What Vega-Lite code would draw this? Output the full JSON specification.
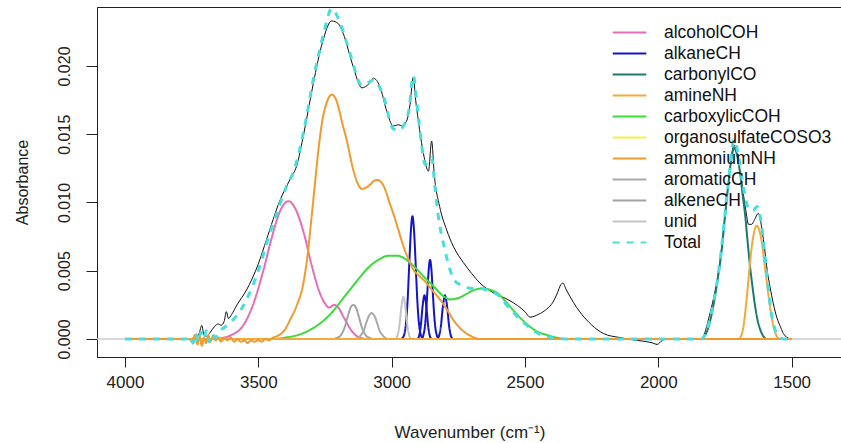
{
  "$schema": "https://vega.github.io/schema/vega-lite/v6.json",
  "width": 745,
  "height": 350,
  "autosize": {"type": "none"},
  "padding": {"left": 97, "top": 7, "right": 0, "bottom": 86},
  "background": "white",
  "config": {
    "view": {"stroke": "#222", "strokeWidth": 1},
    "font": "Liberation Sans",
    "axis": {"grid": false, "domainColor": "#222", "tickColor": "#222", "labelColor": "#222", "titleColor": "#222", "labelFont": "Liberation Sans", "titleFont": "Liberation Sans", "titleFontWeight": "normal"}
  },
  "datasets": {
    "zero": [{"wn": 4105, "ab": 0}, {"wn": 1311.2, "ab": 0}],
    "measured": [
      {"wn": 4000, "ab": 0}, {"wn": 3770, "ab": 0}, {"wn": 3735, "ab": 0.0001}, {"wn": 3722, "ab": 0.0004}, {"wn": 3712, "ab": 0.0010}, {"wn": 3704, "ab": 0.0003}, {"wn": 3695, "ab": 0.0002}, {"wn": 3680, "ab": 0.0005}, {"wn": 3665, "ab": 0.0009}, {"wn": 3650, "ab": 0.0011}, {"wn": 3640, "ab": 0.0010}, {"wn": 3628, "ab": 0.0013}, {"wn": 3620, "ab": 0.0020}, {"wn": 3612, "ab": 0.0015}, {"wn": 3600, "ab": 0.0018}, {"wn": 3580, "ab": 0.0025},
      {"wn": 3544, "ab": 0.0036}, {"wn": 3500, "ab": 0.0055}, {"wn": 3469, "ab": 0.0073}, {"wn": 3420, "ab": 0.0101}, {"wn": 3381, "ab": 0.0117}, {"wn": 3356, "ab": 0.0127}, {"wn": 3330, "ab": 0.0150}, {"wn": 3294, "ab": 0.0187}, {"wn": 3260, "ab": 0.0217}, {"wn": 3225, "ab": 0.0233}, {"wn": 3200, "ab": 0.0231}, {"wn": 3182, "ab": 0.0224}, {"wn": 3145, "ab": 0.0200}, {"wn": 3112, "ab": 0.0184}, {"wn": 3085, "ab": 0.0187}, {"wn": 3069, "ab": 0.0191}, {"wn": 3044, "ab": 0.0185}, {"wn": 3020, "ab": 0.0168}, {"wn": 2994, "ab": 0.0156}, {"wn": 2975, "ab": 0.0157}, {"wn": 2960, "ab": 0.0156}, {"wn": 2950, "ab": 0.0158}, {"wn": 2940, "ab": 0.0162}, {"wn": 2931, "ab": 0.0172}, {"wn": 2919, "ab": 0.0192}, {"wn": 2910, "ab": 0.0175}, {"wn": 2900, "ab": 0.0160}, {"wn": 2881, "ab": 0.0136}, {"wn": 2862, "ab": 0.0123}, {"wn": 2850, "ab": 0.0145}, {"wn": 2840, "ab": 0.0120}, {"wn": 2820, "ab": 0.0097}, {"wn": 2794, "ab": 0.0080}, {"wn": 2769, "ab": 0.0068}, {"wn": 2731, "ab": 0.0056}, {"wn": 2700, "ab": 0.0048}, {"wn": 2669, "ab": 0.0041}, {"wn": 2620, "ab": 0.0034}, {"wn": 2556, "ab": 0.0028}, {"wn": 2500, "ab": 0.0020}, {"wn": 2481, "ab": 0.0016}, {"wn": 2450, "ab": 0.0018}, {"wn": 2418, "ab": 0.0022}, {"wn": 2395, "ab": 0.0027}, {"wn": 2380, "ab": 0.0033}, {"wn": 2365, "ab": 0.0040}, {"wn": 2358, "ab": 0.0041}, {"wn": 2345, "ab": 0.0036}, {"wn": 2331, "ab": 0.0031}, {"wn": 2306, "ab": 0.0023}, {"wn": 2269, "ab": 0.0014}, {"wn": 2230, "ab": 0.0007}, {"wn": 2206, "ab": 0.0004}, {"wn": 2143, "ab": 0.0001}, {"wn": 2080, "ab": -0.0001}, {"wn": 2043, "ab": -0.0002}, {"wn": 2020, "ab": -0.0003}, {"wn": 2005, "ab": -0.0004}, {"wn": 1985, "ab": -0.0001}, {"wn": 1968, "ab": 0}, {"wn": 1840, "ab": 0}, {"wn": 1806, "ab": 0.0019}, {"wn": 1768, "ab": 0.0058}, {"wn": 1737, "ab": 0.0114}, {"wn": 1716, "ab": 0.0142}, {"wn": 1700, "ab": 0.0130}, {"wn": 1687, "ab": 0.0114}, {"wn": 1670, "ab": 0.0092}, {"wn": 1662, "ab": 0.0084}, {"wn": 1650, "ab": 0.0084}, {"wn": 1640, "ab": 0.0087}, {"wn": 1625, "ab": 0.0092}, {"wn": 1606, "ab": 0.0073}, {"wn": 1590, "ab": 0.0048}, {"wn": 1581, "ab": 0.0038}, {"wn": 1556, "ab": 0.0016}, {"wn": 1540, "ab": 0.0008}, {"wn": 1531, "ab": 0.0004}, {"wn": 1506, "ab": 0}
    ],
    "total": [
      {"series": "Total", "wn": 4000, "ab": 0}, {"series": "Total", "wn": 3770, "ab": 0}, {"series": "Total", "wn": 3755, "ab": 0.0002}, {"series": "Total", "wn": 3745, "ab": -0.0003}, {"series": "Total", "wn": 3735, "ab": 0.0004}, {"series": "Total", "wn": 3725, "ab": -0.0002}, {"series": "Total", "wn": 3715, "ab": 0.0005}, {"series": "Total", "wn": 3705, "ab": 0}, {"series": "Total", "wn": 3695, "ab": 0.0006}, {"series": "Total", "wn": 3685, "ab": -0.0002}, {"series": "Total", "wn": 3675, "ab": 0.0004}, {"series": "Total", "wn": 3660, "ab": 0.0001}, {"series": "Total", "wn": 3645, "ab": 0.0006}, {"series": "Total", "wn": 3630, "ab": 0.0008}, {"series": "Total", "wn": 3600, "ab": 0.0013}, {"series": "Total", "wn": 3570, "ab": 0.0020},
      {"series": "Total", "wn": 3544, "ab": 0.0029}, {"series": "Total", "wn": 3500, "ab": 0.0050}, {"series": "Total", "wn": 3469, "ab": 0.0070}, {"series": "Total", "wn": 3431, "ab": 0.0092}, {"series": "Total", "wn": 3394, "ab": 0.0112}, {"series": "Total", "wn": 3369, "ab": 0.0122}, {"series": "Total", "wn": 3331, "ab": 0.0151}, {"series": "Total", "wn": 3294, "ab": 0.0190}, {"series": "Total", "wn": 3256, "ab": 0.0223}, {"series": "Total", "wn": 3225, "ab": 0.0242}, {"series": "Total", "wn": 3194, "ab": 0.0232}, {"series": "Total", "wn": 3156, "ab": 0.0209}, {"series": "Total", "wn": 3112, "ab": 0.0186}, {"series": "Total", "wn": 3085, "ab": 0.0188}, {"series": "Total", "wn": 3069, "ab": 0.0190}, {"series": "Total", "wn": 3031, "ab": 0.0178}, {"series": "Total", "wn": 2994, "ab": 0.0154}, {"series": "Total", "wn": 2970, "ab": 0.0153}, {"series": "Total", "wn": 2956, "ab": 0.0156}, {"series": "Total", "wn": 2935, "ab": 0.0168}, {"series": "Total", "wn": 2919, "ab": 0.0193}, {"series": "Total", "wn": 2905, "ab": 0.0172}, {"series": "Total", "wn": 2890, "ab": 0.0146}, {"series": "Total", "wn": 2875, "ab": 0.0128}, {"series": "Total", "wn": 2862, "ab": 0.0130}, {"series": "Total", "wn": 2850, "ab": 0.0133}, {"series": "Total", "wn": 2838, "ab": 0.0112}, {"series": "Total", "wn": 2825, "ab": 0.0090}, {"series": "Total", "wn": 2800, "ab": 0.0065}, {"series": "Total", "wn": 2780, "ab": 0.0050}, {"series": "Total", "wn": 2760, "ab": 0.0042}, {"series": "Total", "wn": 2731, "ab": 0.0039}, {"series": "Total", "wn": 2700, "ab": 0.0037}, {"series": "Total", "wn": 2669, "ab": 0.0037}, {"series": "Total", "wn": 2630, "ab": 0.0035}, {"series": "Total", "wn": 2606, "ab": 0.0033}, {"series": "Total", "wn": 2556, "ab": 0.0022}, {"series": "Total", "wn": 2500, "ab": 0.0011}, {"series": "Total", "wn": 2450, "ab": 0.0004}, {"series": "Total", "wn": 2400, "ab": 0.0001}, {"series": "Total", "wn": 2350, "ab": 0}, {"series": "Total", "wn": 1840, "ab": 0}, {"series": "Total", "wn": 1800, "ab": 0.0020}, {"series": "Total", "wn": 1770, "ab": 0.0055}, {"series": "Total", "wn": 1737, "ab": 0.0115}, {"series": "Total", "wn": 1716, "ab": 0.0146}, {"series": "Total", "wn": 1700, "ab": 0.0135}, {"series": "Total", "wn": 1680, "ab": 0.0110}, {"series": "Total", "wn": 1660, "ab": 0.0095}, {"series": "Total", "wn": 1645, "ab": 0.0094}, {"series": "Total", "wn": 1630, "ab": 0.0097}, {"series": "Total", "wn": 1612, "ab": 0.0082}, {"series": "Total", "wn": 1594, "ab": 0.0048}, {"series": "Total", "wn": 1575, "ab": 0.0018}, {"series": "Total", "wn": 1556, "ab": 0.0004}, {"series": "Total", "wn": 1530, "ab": 0}, {"series": "Total", "wn": 1500, "ab": 0}
    ],
    "comps": [
      {"series": "alkaneCH", "part": "b1", "wn": 2965, "ab": 0}, {"series": "alkaneCH", "part": "b1", "wn": 2958, "ab": 0.0001}, {"series": "alkaneCH", "part": "b1", "wn": 2952, "ab": 0.0004}, {"series": "alkaneCH", "part": "b1", "wn": 2946, "ab": 0.0012}, {"series": "alkaneCH", "part": "b1", "wn": 2940, "ab": 0.0029}, {"series": "alkaneCH", "part": "b1", "wn": 2934, "ab": 0.0055}, {"series": "alkaneCH", "part": "b1", "wn": 2928, "ab": 0.0079}, {"series": "alkaneCH", "part": "b1", "wn": 2922, "ab": 0.0090}, {"series": "alkaneCH", "part": "b1", "wn": 2916, "ab": 0.0079}, {"series": "alkaneCH", "part": "b1", "wn": 2910, "ab": 0.0055}, {"series": "alkaneCH", "part": "b1", "wn": 2904, "ab": 0.0029}, {"series": "alkaneCH", "part": "b1", "wn": 2898, "ab": 0.0012}, {"series": "alkaneCH", "part": "b1", "wn": 2892, "ab": 0.0004}, {"series": "alkaneCH", "part": "b1", "wn": 2886, "ab": 0.0001}, {"series": "alkaneCH", "part": "b1", "wn": 2878, "ab": 0},
      {"series": "alkaneCH", "part": "b2", "wn": 2905, "ab": 0}, {"series": "alkaneCH", "part": "b2", "wn": 2899.5, "ab": 0.0001}, {"series": "alkaneCH", "part": "b2", "wn": 2895, "ab": 0.0004}, {"series": "alkaneCH", "part": "b2", "wn": 2890.5, "ab": 0.0010}, {"series": "alkaneCH", "part": "b2", "wn": 2886, "ab": 0.0020}, {"series": "alkaneCH", "part": "b2", "wn": 2881.5, "ab": 0.0028}, {"series": "alkaneCH", "part": "b2", "wn": 2877, "ab": 0.0032}, {"series": "alkaneCH", "part": "b2", "wn": 2872.5, "ab": 0.0028}, {"series": "alkaneCH", "part": "b2", "wn": 2868, "ab": 0.0020}, {"series": "alkaneCH", "part": "b2", "wn": 2863.5, "ab": 0.0010}, {"series": "alkaneCH", "part": "b2", "wn": 2859, "ab": 0.0004}, {"series": "alkaneCH", "part": "b2", "wn": 2854.5, "ab": 0.0001}, {"series": "alkaneCH", "part": "b2", "wn": 2849, "ab": 0},
      {"series": "alkaneCH", "part": "b3", "wn": 2888, "ab": 0}, {"series": "alkaneCH", "part": "b3", "wn": 2881, "ab": 0.0003}, {"series": "alkaneCH", "part": "b3", "wn": 2876, "ab": 0.0008}, {"series": "alkaneCH", "part": "b3", "wn": 2871, "ab": 0.0019}, {"series": "alkaneCH", "part": "b3", "wn": 2866, "ab": 0.0035}, {"series": "alkaneCH", "part": "b3", "wn": 2861, "ab": 0.0051}, {"series": "alkaneCH", "part": "b3", "wn": 2856, "ab": 0.0058}, {"series": "alkaneCH", "part": "b3", "wn": 2851, "ab": 0.0051}, {"series": "alkaneCH", "part": "b3", "wn": 2846, "ab": 0.0035}, {"series": "alkaneCH", "part": "b3", "wn": 2841, "ab": 0.0019}, {"series": "alkaneCH", "part": "b3", "wn": 2836, "ab": 0.0008}, {"series": "alkaneCH", "part": "b3", "wn": 2831, "ab": 0.0003}, {"series": "alkaneCH", "part": "b3", "wn": 2824, "ab": 0},
      {"series": "alkaneCH", "part": "b4", "wn": 2830, "ab": 0}, {"series": "alkaneCH", "part": "b4", "wn": 2825, "ab": 0.0001}, {"series": "alkaneCH", "part": "b4", "wn": 2820, "ab": 0.0004}, {"series": "alkaneCH", "part": "b4", "wn": 2815, "ab": 0.0010}, {"series": "alkaneCH", "part": "b4", "wn": 2810, "ab": 0.0020}, {"series": "alkaneCH", "part": "b4", "wn": 2805, "ab": 0.0028}, {"series": "alkaneCH", "part": "b4", "wn": 2800, "ab": 0.0032}, {"series": "alkaneCH", "part": "b4", "wn": 2795, "ab": 0.0028}, {"series": "alkaneCH", "part": "b4", "wn": 2790, "ab": 0.0020}, {"series": "alkaneCH", "part": "b4", "wn": 2785, "ab": 0.0010}, {"series": "alkaneCH", "part": "b4", "wn": 2780, "ab": 0.0004}, {"series": "alkaneCH", "part": "b4", "wn": 2775, "ab": 0.0001}, {"series": "alkaneCH", "part": "b4", "wn": 2770, "ab": 0},

      {"series": "organosulfateCOSO3", "part": "f", "wn": 4000, "ab": 0}, {"series": "organosulfateCOSO3", "part": "f", "wn": 1500, "ab": 0},

      {"series": "carbonylCO", "part": "c", "wn": 4000, "ab": 0}, {"series": "carbonylCO", "part": "c", "wn": 1840, "ab": 0}, {"series": "carbonylCO", "part": "c", "wn": 1831, "ab": 0.0001}, {"series": "carbonylCO", "part": "c", "wn": 1810, "ab": 0.0010}, {"series": "carbonylCO", "part": "c", "wn": 1794, "ab": 0.0024}, {"series": "carbonylCO", "part": "c", "wn": 1778, "ab": 0.0043}, {"series": "carbonylCO", "part": "c", "wn": 1762, "ab": 0.0066}, {"series": "carbonylCO", "part": "c", "wn": 1750, "ab": 0.0090}, {"series": "carbonylCO", "part": "c", "wn": 1737, "ab": 0.0114}, {"series": "carbonylCO", "part": "c", "wn": 1726, "ab": 0.0132}, {"series": "carbonylCO", "part": "c", "wn": 1716, "ab": 0.0140}, {"series": "carbonylCO", "part": "c", "wn": 1705, "ab": 0.0135}, {"series": "carbonylCO", "part": "c", "wn": 1693, "ab": 0.0121}, {"series": "carbonylCO", "part": "c", "wn": 1684, "ab": 0.0106}, {"series": "carbonylCO", "part": "c", "wn": 1674, "ab": 0.0090}, {"series": "carbonylCO", "part": "c", "wn": 1665, "ab": 0.0071}, {"series": "carbonylCO", "part": "c", "wn": 1656, "ab": 0.0053}, {"series": "carbonylCO", "part": "c", "wn": 1646, "ab": 0.0037}, {"series": "carbonylCO", "part": "c", "wn": 1637, "ab": 0.0024}, {"series": "carbonylCO", "part": "c", "wn": 1628, "ab": 0.0014}, {"series": "carbonylCO", "part": "c", "wn": 1618, "ab": 0.0007}, {"series": "carbonylCO", "part": "c", "wn": 1606, "ab": 0.0002}, {"series": "carbonylCO", "part": "c", "wn": 1594, "ab": 0}, {"series": "carbonylCO", "part": "c", "wn": 1500, "ab": 0},

      {"series": "alcoholCOH", "part": "a", "wn": 4000, "ab": 0}, {"series": "alcoholCOH", "part": "a", "wn": 3700, "ab": 0}, {"series": "alcoholCOH", "part": "a", "wn": 3650, "ab": 0.00004}, {"series": "alcoholCOH", "part": "a", "wn": 3600, "ab": 0.0003}, {"series": "alcoholCOH", "part": "a", "wn": 3560, "ab": 0.0009}, {"series": "alcoholCOH", "part": "a", "wn": 3520, "ab": 0.0025}, {"series": "alcoholCOH", "part": "a", "wn": 3480, "ab": 0.0051}, {"series": "alcoholCOH", "part": "a", "wn": 3450, "ab": 0.0074}, {"series": "alcoholCOH", "part": "a", "wn": 3420, "ab": 0.0093}, {"series": "alcoholCOH", "part": "a", "wn": 3387, "ab": 0.0101}, {"series": "alcoholCOH", "part": "a", "wn": 3360, "ab": 0.0095}, {"series": "alcoholCOH", "part": "a", "wn": 3330, "ab": 0.0078}, {"series": "alcoholCOH", "part": "a", "wn": 3300, "ab": 0.0054}, {"series": "alcoholCOH", "part": "a", "wn": 3270, "ab": 0.0034}, {"series": "alcoholCOH", "part": "a", "wn": 3250, "ab": 0.0026}, {"series": "alcoholCOH", "part": "a", "wn": 3235, "ab": 0.0023}, {"series": "alcoholCOH", "part": "a", "wn": 3215, "ab": 0.0025}, {"series": "alcoholCOH", "part": "a", "wn": 3200, "ab": 0.0023}, {"series": "alcoholCOH", "part": "a", "wn": 3180, "ab": 0.0016}, {"series": "alcoholCOH", "part": "a", "wn": 3150, "ab": 0.0006}, {"series": "alcoholCOH", "part": "a", "wn": 3120, "ab": 0.0001}, {"series": "alcoholCOH", "part": "a", "wn": 3090, "ab": 0}, {"series": "alcoholCOH", "part": "a", "wn": 1500, "ab": 0},

      {"series": "carboxylicCOH", "part": "e", "wn": 4000, "ab": 0}, {"series": "carboxylicCOH", "part": "e", "wn": 3450, "ab": 0}, {"series": "carboxylicCOH", "part": "e", "wn": 3400, "ab": 0.0001}, {"series": "carboxylicCOH", "part": "e", "wn": 3350, "ab": 0.0003}, {"series": "carboxylicCOH", "part": "e", "wn": 3294, "ab": 0.0008}, {"series": "carboxylicCOH", "part": "e", "wn": 3231, "ab": 0.0018}, {"series": "carboxylicCOH", "part": "e", "wn": 3169, "ab": 0.0033}, {"series": "carboxylicCOH", "part": "e", "wn": 3120, "ab": 0.0045}, {"series": "carboxylicCOH", "part": "e", "wn": 3094, "ab": 0.0051}, {"series": "carboxylicCOH", "part": "e", "wn": 3050, "ab": 0.0058}, {"series": "carboxylicCOH", "part": "e", "wn": 3012, "ab": 0.0061}, {"series": "carboxylicCOH", "part": "e", "wn": 2980, "ab": 0.0061}, {"series": "carboxylicCOH", "part": "e", "wn": 2944, "ab": 0.0058}, {"series": "carboxylicCOH", "part": "e", "wn": 2910, "ab": 0.0052}, {"series": "carboxylicCOH", "part": "e", "wn": 2881, "ab": 0.0046}, {"series": "carboxylicCOH", "part": "e", "wn": 2840, "ab": 0.0038}, {"series": "carboxylicCOH", "part": "e", "wn": 2810, "ab": 0.0032}, {"series": "carboxylicCOH", "part": "e", "wn": 2780, "ab": 0.0029}, {"series": "carboxylicCOH", "part": "e", "wn": 2750, "ab": 0.0030}, {"series": "carboxylicCOH", "part": "e", "wn": 2720, "ab": 0.0033}, {"series": "carboxylicCOH", "part": "e", "wn": 2690, "ab": 0.0036}, {"series": "carboxylicCOH", "part": "e", "wn": 2660, "ab": 0.0037}, {"series": "carboxylicCOH", "part": "e", "wn": 2630, "ab": 0.0036}, {"series": "carboxylicCOH", "part": "e", "wn": 2606, "ab": 0.0034}, {"series": "carboxylicCOH", "part": "e", "wn": 2575, "ab": 0.0028}, {"series": "carboxylicCOH", "part": "e", "wn": 2544, "ab": 0.0021}, {"series": "carboxylicCOH", "part": "e", "wn": 2510, "ab": 0.0014}, {"series": "carboxylicCOH", "part": "e", "wn": 2481, "ab": 0.0009}, {"series": "carboxylicCOH", "part": "e", "wn": 2450, "ab": 0.0005}, {"series": "carboxylicCOH", "part": "e", "wn": 2418, "ab": 0.0003}, {"series": "carboxylicCOH", "part": "e", "wn": 2380, "ab": 0.0001}, {"series": "carboxylicCOH", "part": "e", "wn": 2350, "ab": 0}, {"series": "carboxylicCOH", "part": "e", "wn": 1500, "ab": 0},

      {"series": "alkeneCH", "part": "i", "wn": 4000, "ab": 0}, {"series": "alkeneCH", "part": "i", "wn": 3220, "ab": 0}, {"series": "alkeneCH", "part": "i", "wn": 3204, "ab": 0.0001}, {"series": "alkeneCH", "part": "i", "wn": 3194, "ab": 0.0002}, {"series": "alkeneCH", "part": "i", "wn": 3184, "ab": 0.0005}, {"series": "alkeneCH", "part": "i", "wn": 3174, "ab": 0.0010}, {"series": "alkeneCH", "part": "i", "wn": 3164, "ab": 0.0017}, {"series": "alkeneCH", "part": "i", "wn": 3154, "ab": 0.0023}, {"series": "alkeneCH", "part": "i", "wn": 3144, "ab": 0.0025}, {"series": "alkeneCH", "part": "i", "wn": 3134, "ab": 0.0023}, {"series": "alkeneCH", "part": "i", "wn": 3124, "ab": 0.0017}, {"series": "alkeneCH", "part": "i", "wn": 3114, "ab": 0.0010}, {"series": "alkeneCH", "part": "i", "wn": 3104, "ab": 0.0005}, {"series": "alkeneCH", "part": "i", "wn": 3094, "ab": 0.0002}, {"series": "alkeneCH", "part": "i", "wn": 3084, "ab": 0.0001}, {"series": "alkeneCH", "part": "i", "wn": 3070, "ab": 0}, {"series": "alkeneCH", "part": "i", "wn": 1500, "ab": 0},

      {"series": "aromaticCH", "part": "h", "wn": 4000, "ab": 0}, {"series": "aromaticCH", "part": "h", "wn": 3140, "ab": 0}, {"series": "aromaticCH", "part": "h", "wn": 3125, "ab": 0.0001}, {"series": "aromaticCH", "part": "h", "wn": 3115, "ab": 0.0003}, {"series": "aromaticCH", "part": "h", "wn": 3105, "ab": 0.0006}, {"series": "aromaticCH", "part": "h", "wn": 3095, "ab": 0.0012}, {"series": "aromaticCH", "part": "h", "wn": 3085, "ab": 0.0017}, {"series": "aromaticCH", "part": "h", "wn": 3075, "ab": 0.0019}, {"series": "aromaticCH", "part": "h", "wn": 3065, "ab": 0.0017}, {"series": "aromaticCH", "part": "h", "wn": 3055, "ab": 0.0012}, {"series": "aromaticCH", "part": "h", "wn": 3045, "ab": 0.0006}, {"series": "aromaticCH", "part": "h", "wn": 3035, "ab": 0.0003}, {"series": "aromaticCH", "part": "h", "wn": 3025, "ab": 0.0001}, {"series": "aromaticCH", "part": "h", "wn": 3010, "ab": 0}, {"series": "aromaticCH", "part": "h", "wn": 1500, "ab": 0},

      {"series": "unid", "part": "j", "wn": 4000, "ab": 0}, {"series": "unid", "part": "j", "wn": 2990, "ab": 0}, {"series": "unid", "part": "j", "wn": 2981, "ab": 0.0001}, {"series": "unid", "part": "j", "wn": 2976, "ab": 0.0004}, {"series": "unid", "part": "j", "wn": 2971, "ab": 0.0010}, {"series": "unid", "part": "j", "wn": 2966, "ab": 0.0019}, {"series": "unid", "part": "j", "wn": 2961, "ab": 0.0027}, {"series": "unid", "part": "j", "wn": 2956, "ab": 0.0031}, {"series": "unid", "part": "j", "wn": 2951, "ab": 0.0027}, {"series": "unid", "part": "j", "wn": 2946, "ab": 0.0019}, {"series": "unid", "part": "j", "wn": 2941, "ab": 0.0010}, {"series": "unid", "part": "j", "wn": 2936, "ab": 0.0004}, {"series": "unid", "part": "j", "wn": 2931, "ab": 0.0001}, {"series": "unid", "part": "j", "wn": 2920, "ab": 0}, {"series": "unid", "part": "j", "wn": 1500, "ab": 0},

      {"series": "amineNH", "part": "d", "wn": 4000, "ab": 0}, {"series": "amineNH", "part": "d", "wn": 1700, "ab": 0}, {"series": "amineNH", "part": "d", "wn": 1690, "ab": 0.0002}, {"series": "amineNH", "part": "d", "wn": 1680, "ab": 0.0010}, {"series": "amineNH", "part": "d", "wn": 1669, "ab": 0.0029}, {"series": "amineNH", "part": "d", "wn": 1660, "ab": 0.0048}, {"series": "amineNH", "part": "d", "wn": 1650, "ab": 0.0067}, {"series": "amineNH", "part": "d", "wn": 1640, "ab": 0.0079}, {"series": "amineNH", "part": "d", "wn": 1631, "ab": 0.0083}, {"series": "amineNH", "part": "d", "wn": 1622, "ab": 0.0080}, {"series": "amineNH", "part": "d", "wn": 1612, "ab": 0.0071}, {"series": "amineNH", "part": "d", "wn": 1603, "ab": 0.0057}, {"series": "amineNH", "part": "d", "wn": 1594, "ab": 0.0043}, {"series": "amineNH", "part": "d", "wn": 1585, "ab": 0.0029}, {"series": "amineNH", "part": "d", "wn": 1575, "ab": 0.0016}, {"series": "amineNH", "part": "d", "wn": 1565, "ab": 0.0007}, {"series": "amineNH", "part": "d", "wn": 1556, "ab": 0.0002}, {"series": "amineNH", "part": "d", "wn": 1545, "ab": 0}, {"series": "amineNH", "part": "d", "wn": 1500, "ab": 0},

      {"series": "ammoniumNH", "part": "g", "wn": 4000, "ab": 0}, {"series": "ammoniumNH", "part": "g", "wn": 3760, "ab": 0}, {"series": "ammoniumNH", "part": "g", "wn": 3748, "ab": -0.0002}, {"series": "ammoniumNH", "part": "g", "wn": 3738, "ab": 0.0003}, {"series": "ammoniumNH", "part": "g", "wn": 3728, "ab": -0.0004}, {"series": "ammoniumNH", "part": "g", "wn": 3720, "ab": 0.0002}, {"series": "ammoniumNH", "part": "g", "wn": 3712, "ab": -0.0005}, {"series": "ammoniumNH", "part": "g", "wn": 3704, "ab": 0.0001}, {"series": "ammoniumNH", "part": "g", "wn": 3696, "ab": -0.0003}, {"series": "ammoniumNH", "part": "g", "wn": 3688, "ab": 0.0003}, {"series": "ammoniumNH", "part": "g", "wn": 3680, "ab": -0.0002}, {"series": "ammoniumNH", "part": "g", "wn": 3670, "ab": 0.0002}, {"series": "ammoniumNH", "part": "g", "wn": 3660, "ab": -0.0001}, {"series": "ammoniumNH", "part": "g", "wn": 3650, "ab": 0.0001}, {"series": "ammoniumNH", "part": "g", "wn": 3640, "ab": -0.0002}, {"series": "ammoniumNH", "part": "g", "wn": 3628, "ab": 0.0001}, {"series": "ammoniumNH", "part": "g", "wn": 3616, "ab": -0.0001}, {"series": "ammoniumNH", "part": "g", "wn": 3604, "ab": 0.0001}, {"series": "ammoniumNH", "part": "g", "wn": 3590, "ab": -0.0002}, {"series": "ammoniumNH", "part": "g", "wn": 3578, "ab": 0}, {"series": "ammoniumNH", "part": "g", "wn": 3566, "ab": -0.0002}, {"series": "ammoniumNH", "part": "g", "wn": 3552, "ab": -0.0001}, {"series": "ammoniumNH", "part": "g", "wn": 3540, "ab": -0.0003}, {"series": "ammoniumNH", "part": "g", "wn": 3528, "ab": -0.0001}, {"series": "ammoniumNH", "part": "g", "wn": 3516, "ab": -0.0002}, {"series": "ammoniumNH", "part": "g", "wn": 3500, "ab": -0.0001}, {"series": "ammoniumNH", "part": "g", "wn": 3488, "ab": -0.0002}, {"series": "ammoniumNH", "part": "g", "wn": 3474, "ab": 0}, {"series": "ammoniumNH", "part": "g", "wn": 3460, "ab": -0.0001}, {"series": "ammoniumNH", "part": "g", "wn": 3445, "ab": 0.0001}, {"series": "ammoniumNH", "part": "g", "wn": 3431, "ab": 0.0002}, {"series": "ammoniumNH", "part": "g", "wn": 3400, "ab": 0.0007}, {"series": "ammoniumNH", "part": "g", "wn": 3381, "ab": 0.0014}, {"series": "ammoniumNH", "part": "g", "wn": 3355, "ab": 0.0025}, {"series": "ammoniumNH", "part": "g", "wn": 3331, "ab": 0.0041}, {"series": "ammoniumNH", "part": "g", "wn": 3315, "ab": 0.0062}, {"series": "ammoniumNH", "part": "g", "wn": 3300, "ab": 0.0090}, {"series": "ammoniumNH", "part": "g", "wn": 3287, "ab": 0.0115}, {"series": "ammoniumNH", "part": "g", "wn": 3275, "ab": 0.0138}, {"series": "ammoniumNH", "part": "g", "wn": 3260, "ab": 0.0160}, {"series": "ammoniumNH", "part": "g", "wn": 3244, "ab": 0.0173}, {"series": "ammoniumNH", "part": "g", "wn": 3225, "ab": 0.0179}, {"series": "ammoniumNH", "part": "g", "wn": 3210, "ab": 0.0176}, {"series": "ammoniumNH", "part": "g", "wn": 3200, "ab": 0.0170}, {"series": "ammoniumNH", "part": "g", "wn": 3185, "ab": 0.0158}, {"series": "ammoniumNH", "part": "g", "wn": 3169, "ab": 0.0146}, {"series": "ammoniumNH", "part": "g", "wn": 3144, "ab": 0.0124}, {"series": "ammoniumNH", "part": "g", "wn": 3125, "ab": 0.0113}, {"series": "ammoniumNH", "part": "g", "wn": 3112, "ab": 0.0110}, {"series": "ammoniumNH", "part": "g", "wn": 3095, "ab": 0.0111}, {"series": "ammoniumNH", "part": "g", "wn": 3081, "ab": 0.0113}, {"series": "ammoniumNH", "part": "g", "wn": 3065, "ab": 0.0116}, {"series": "ammoniumNH", "part": "g", "wn": 3054, "ab": 0.01165}, {"series": "ammoniumNH", "part": "g", "wn": 3040, "ab": 0.0115}, {"series": "ammoniumNH", "part": "g", "wn": 3025, "ab": 0.0110}, {"series": "ammoniumNH", "part": "g", "wn": 3010, "ab": 0.0101}, {"series": "ammoniumNH", "part": "g", "wn": 2994, "ab": 0.0092}, {"series": "ammoniumNH", "part": "g", "wn": 2975, "ab": 0.0080}, {"series": "ammoniumNH", "part": "g", "wn": 2956, "ab": 0.0068}, {"series": "ammoniumNH", "part": "g", "wn": 2938, "ab": 0.0059}, {"series": "ammoniumNH", "part": "g", "wn": 2919, "ab": 0.0051}, {"series": "ammoniumNH", "part": "g", "wn": 2895, "ab": 0.0046}, {"series": "ammoniumNH", "part": "g", "wn": 2869, "ab": 0.0041}, {"series": "ammoniumNH", "part": "g", "wn": 2845, "ab": 0.0035}, {"series": "ammoniumNH", "part": "g", "wn": 2819, "ab": 0.0029}, {"series": "ammoniumNH", "part": "g", "wn": 2794, "ab": 0.0022}, {"series": "ammoniumNH", "part": "g", "wn": 2769, "ab": 0.0014}, {"series": "ammoniumNH", "part": "g", "wn": 2744, "ab": 0.0008}, {"series": "ammoniumNH", "part": "g", "wn": 2719, "ab": 0.0004}, {"series": "ammoniumNH", "part": "g", "wn": 2690, "ab": 0.0001}, {"series": "ammoniumNH", "part": "g", "wn": 2669, "ab": 0}, {"series": "ammoniumNH", "part": "g", "wn": 1500, "ab": 0}
    ]
  },
  "encoding": {
    "x": {"field": "wn", "type": "quantitative", "scale": {"domain": [4105, 1311.2], "nice": false, "zero": false},
      "axis": {"values": [4000, 3500, 3000, 2500, 2000, 1500], "format": "d", "title": "Wavenumber (cm⁻¹)", "tickSize": 10, "labelFontSize": 17, "labelPadding": 7, "titleFontSize": 17, "titleBaseline": "middle", "titleY": 75, "labelFlush": false}},
    "y": {"field": "ab", "type": "quantitative", "scale": {"domain": [-0.001319, 0.024322], "nice": false, "zero": false},
      "axis": {"values": [0, 0.005, 0.01, 0.015, 0.02], "format": ".3f", "title": "Absorbance", "tickSize": 11, "labelFontSize": 16, "labelAngle": -90, "labelAlign": "center", "labelBaseline": "alphabetic", "labelPadding": 17, "titleFontSize": 16, "titleBaseline": "middle", "titleX": -75, "labelFlush": false}}
  },
  "layer": [
    {
      "data": {"name": "zero"},
      "mark": {"type": "line", "color": "#cccccc", "strokeWidth": 1.5, "clip": true}
    },
    {
      "data": {"name": "measured"},
      "mark": {"type": "line", "color": "#111111", "strokeWidth": 1, "interpolate": "monotone"}
    },
    {
      "data": {"name": "comps"},
      "mark": {"type": "line", "strokeWidth": 2, "interpolate": "monotone"},
      "encoding": {
        "detail": {"field": "part"},
        "color": {"field": "series", "type": "nominal",
          "scale": {"domain": ["alcoholCOH", "alkaneCH", "carbonylCO", "amineNH", "carboxylicCOH", "organosulfateCOSO3", "ammoniumNH", "aromaticCH", "alkeneCH", "unid", "Total"],
                    "range": ["#E46FB8", "#1414C8", "#1B7A72", "#F2AA3A", "#3BDB3B", "#F2F244", "#F09A30", "#A9A9A9", "#A3A3A3", "#C4C4C4", "#46DEDE"]},
          "legend": {"orient": "none", "legendX": 521, "legendY": 14, "title": null, "symbolType": "M-1.6,0H1.6", "symbolSize": 441, "symbolStrokeWidth": 2, "labelFontSize": 17.5, "labelOffset": 23, "rowPadding": 1, "padding": 0, "labelColor": "#111111", "labelFont": "Liberation Sans", "labelLimit": 300}},
        "strokeDash": {"field": "series", "type": "nominal",
          "scale": {"domain": ["alcoholCOH", "alkaneCH", "carbonylCO", "amineNH", "carboxylicCOH", "organosulfateCOSO3", "ammoniumNH", "aromaticCH", "alkeneCH", "unid", "Total"],
                    "range": [[1, 0], [1, 0], [1, 0], [1, 0], [1, 0], [1, 0], [1, 0], [1, 0], [1, 0], [1, 0], [7, 7]]}}
      }
    },
    {
      "data": {"name": "total"},
      "mark": {"type": "line", "strokeWidth": 3, "interpolate": "monotone"},
      "encoding": {
        "color": {"field": "series", "type": "nominal"},
        "strokeDash": {"field": "series", "type": "nominal"}
      }
    }
  ]
}
